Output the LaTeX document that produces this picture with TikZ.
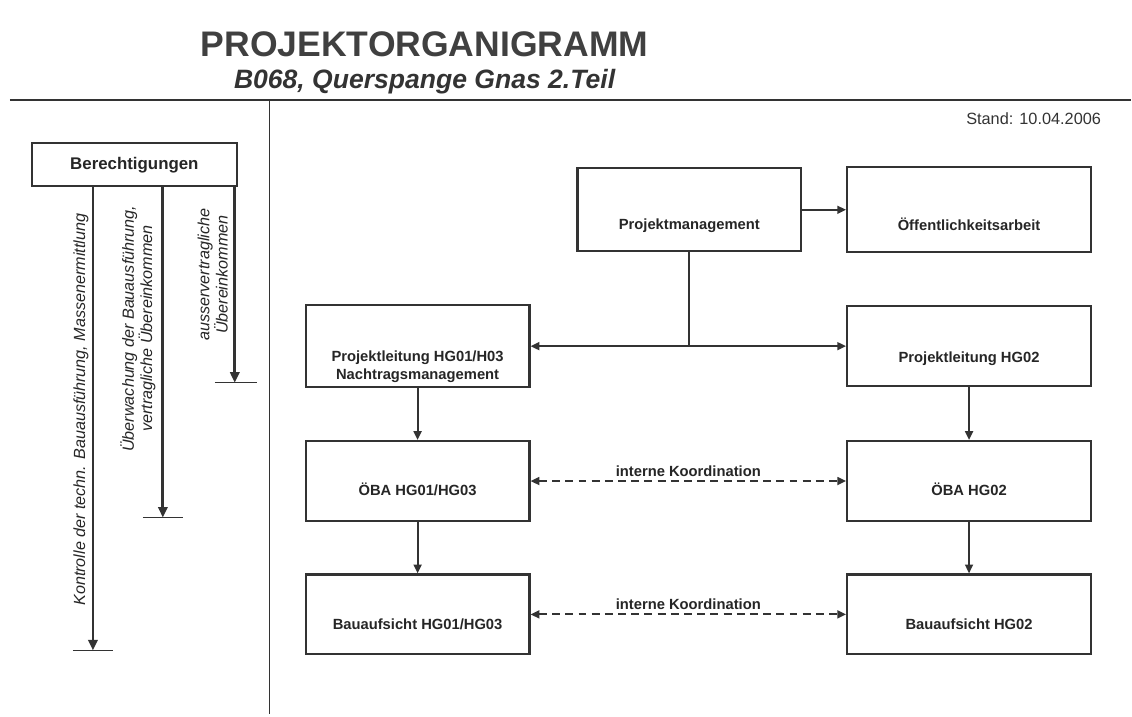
\documentclass[tikz,border=0pt]{standalone}
\usepackage{fontspec}
\setmainfont{Liberation Sans}
\usepackage{tikz}
\usetikzlibrary{arrows.meta}
\usetikzlibrary{calc}

\begin{document}
\begin{tikzpicture}[x=0.25mm,y=-0.25mm,
  ink/.style={draw=black!80},
  orgbox/.style={draw=black!80,line width=1.6pt,text=black!85,font=\fontsize{10.5}{12.6}\selectfont\bfseries,minimum width=56mm,minimum height=20mm,text depth=2.2pt,text height=#1},
  widebox/.style={orgbox=#1,minimum width=61mm},
  headbox/.style={draw=black!80,line width=1.6pt,text=black!85,font=\fontsize{12}{14}\selectfont\bfseries,minimum width=51.25mm,minimum height=10.75mm},
  link/.style={draw=black!80,line width=1.3pt,-{Triangle[length=2.2mm,width=2mm]}},
  linkboth/.style={link,{Triangle[length=2.2mm,width=2mm]}-{Triangle[length=2.2mm,width=2mm]}},
  coord/.style={linkboth,dash pattern=on 2mm off 1.3mm},
  perm/.style={draw=black!80,line width=2pt,-{Triangle[length=2.6mm,width=2.3mm]}},
  permtext/.style={rotate=90,text=black!85,font=\fontsize{11.5}{13}\selectfont\itshape,align=center}]
\fill[white] (0,0) rectangle (1132,717);
\node[font=\fontsize{25.3}{30}\selectfont\bfseries,text=black!75] (title) at (425,44.5) {PROJEKTORGANIGRAMM};
\node[font=\fontsize{18.9}{22}\selectfont\bfseries\itshape,text=black!80,anchor=base] (sub) at (425,89) {B068, Querspange Gnas 2.Teil};
\node[font=\fontsize{11.6}{14}\selectfont,text=black!80,anchor=base east] (stand) at (1107,125) {Stand: 10.04.2006};
\draw[ink,line width=1.6pt] (10,100) -- (1132,100);
\draw[ink,line width=1pt] (270,100) -- (270,715);

\node[headbox] (ber) at (134.5,165) {Berechtigungen};
\coordinate (k1) at (93,651);
\coordinate (k2) at (163,518);
\coordinate (k3) at (235,383);
\draw[perm] (ber.south -| k1) -- (k1);
\draw[perm] (ber.south -| k2) -- (k2);
\draw[perm] (ber.south -| k3) -- (k3);
\draw[ink,line width=1.2pt] ([xshift=-5mm]k1) -- ([xshift=5mm]k1);
\draw[ink,line width=1.2pt] ([xshift=-5mm]k2) -- ([xshift=5mm]k2);
\draw[ink,line width=1.2pt] ([xshift=-5mm]k3) -- ([xshift=5.5mm]k3);
\node[permtext] (t1) at (81,410) {Kontrolle der techn. Bauausführung, Massenermittlung};
\node[permtext] (t2) at (138,329) {Überwachung der Bauausführung,\\vertragliche Übereinkommen};
\node[permtext] (t3) at (213,275) {ausservertragliche\\Übereinkommen};

\node[orgbox=29.7pt,minimum height=20.75mm] (pm) at (690,210) {Projektmanagement};
\node[widebox=31pt,minimum height=21.25mm] (oa) at (970,210) {Öffentlichkeitsarbeit};
\node[orgbox=49.5pt,align=center] (pl1) at (418,346.5) {Projektleitung HG01/H03\\Nachtragsmanagement};
\node[widebox=25.3pt] (pl2) at (970,346.5) {Projektleitung HG02};
\node[orgbox=22.5pt] (oba1) at (418,481.5) {ÖBA HG01/HG03};
\node[widebox=22.5pt] (oba2) at (970,481.5) {ÖBA HG02};
\node[orgbox=24pt] (ba1) at (418,615) {Bauaufsicht HG01/HG03};
\node[widebox=24pt] (ba2) at (970,615) {Bauaufsicht HG02};

\draw[link] (pm) -- (oa);
\draw[ink,line width=1.3pt] (pm.south) -- (pm.south |- pl1.east) coordinate (fork);
\draw[link] (fork) -- (pl1.east);
\draw[link] (fork) -- (pl2.west);
\draw[link] (pl1) -- (oba1);
\draw[link] (oba1) -- (ba1);
\draw[link] (pl2) -- (oba2);
\draw[link] (oba2) -- (ba2);
\draw[coord] (oba1) -- (oba2) node[midway,above,inner sep=2.5pt,text=black!85,font=\fontsize{10.5}{12.6}\selectfont\bfseries] (ik1) {interne Koordination};
\draw[coord] (ba1) -- (ba2) node[midway,above,inner sep=2.5pt,text=black!85,font=\fontsize{10.5}{12.6}\selectfont\bfseries] (ik2) {interne Koordination};
\end{tikzpicture}
\end{document}
